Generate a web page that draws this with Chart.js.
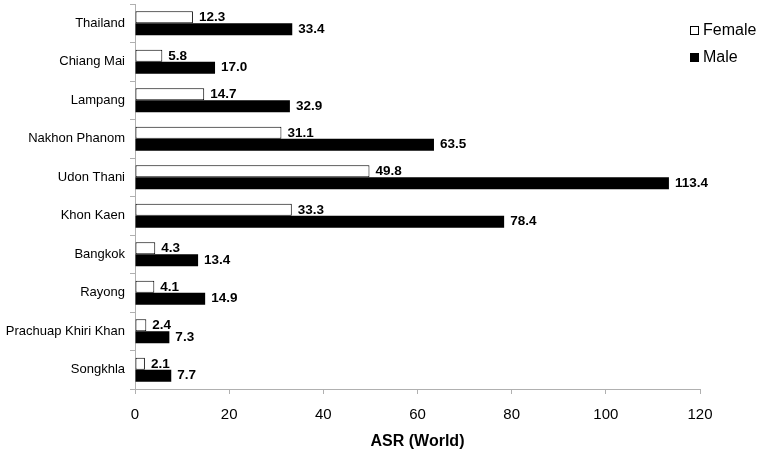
<!DOCTYPE html>
<html>
<head>
<meta charset="utf-8">
<script src="https://cdn.jsdelivr.net/npm/chart.js@4"></script>
<style>
  html, body { margin: 0; padding: 0; background: #fff; }
  #wrap { width: 762px; height: 459px; }
</style>
</head>
<body>
<div id="wrap"><canvas id="asrChart" width="762" height="459"></canvas></div>
<script>
// Chart data
const provinces = ['Thailand', 'Chiang Mai', 'Lampang', 'Nakhon Phanom', 'Udon Thani',
  'Khon Kaen', 'Bangkok', 'Rayong', 'Prachuap Khiri Khan', 'Songkhla'];
const femaleASR = [12.3, 5.8, 14.7, 31.1, 49.8, 33.3, 4.3, 4.1, 2.4, 2.1];
const maleASR = [33.4, 17.0, 32.9, 63.5, 113.4, 78.4, 13.4, 14.9, 7.3, 7.7];
const xTicks = [0, 20, 40, 60, 80, 100, 120];

const FONT = 'Liberation Sans, Arial, sans-serif';

// value labels to the right of each bar
const barLabels = {
  id: 'barLabels',
  afterDatasetsDraw(chart) {
    const ctx = chart.ctx;
    ctx.save();
    ctx.font = 'bold 13.5px ' + FONT;
    ctx.fillStyle = '#000';
    ctx.textAlign = 'left';
    ctx.textBaseline = 'middle';
    chart.data.datasets.forEach((ds, di) => {
      chart.getDatasetMeta(di).data.forEach((bar, i) => {
        ctx.fillText(ds.data[i].toFixed(1), bar.x + 6, bar.y);
      });
    });
    ctx.restore();
  }
};

// legend in the top right corner
const cornerLegend = {
  id: 'cornerLegend',
  afterDraw(chart) {
    const ctx = chart.ctx;
    ctx.save();
    ctx.font = '16px ' + FONT;
    ctx.textBaseline = 'middle';
    chart.data.datasets.forEach((ds, i) => {
      const y = 31 + i * 27;
      ctx.fillStyle = ds.backgroundColor;
      ctx.fillRect(690, y - 5, 9, 9);
      ctx.strokeStyle = '#000';
      ctx.lineWidth = 1;
      ctx.strokeRect(690.5, y - 4.5, 8, 8);
      ctx.fillStyle = '#000';
      ctx.fillText(ds.label, 703, y);
    });
    ctx.restore();
  }
};

new Chart(document.getElementById('asrChart'), {
  type: 'bar',
  data: {
    labels: provinces,
    datasets: [{
      label: 'Female',
      data: femaleASR,
      backgroundColor: '#ffffff',
      borderColor: '#000000',
      borderWidth: 1,
      borderSkipped: false,
      categoryPercentage: 0.62,
      barPercentage: 1.0
    }, {
      label: 'Male',
      data: maleASR,
      backgroundColor: '#000000',
      borderColor: '#000000',
      borderWidth: 0,
      categoryPercentage: 0.62,
      barPercentage: 1.0
    }]
  },
  options: {
    indexAxis: 'y',
    responsive: false,
    animation: false,
    layout: { padding: { top: 4, right: 62, left: 0, bottom: 0 } },
    plugins: {
      legend: { display: false },
      tooltip: { enabled: false }
    },
    scales: {
      x: {
        min: 0,
        max: 120,
        afterBuildTicks: (scale) => { scale.ticks = xTicks.map(v => ({ value: v })); },
        afterFit: (scale) => { scale.height = 70; },
        border: { color: '#b0b0b0', width: 1 },
        grid: { drawOnChartArea: false, tickLength: 5, color: '#b0b0b0' },
        ticks: { color: '#000', padding: 12, font: { family: FONT, size: 15 } },
        title: {
          display: true,
          text: 'ASR (World)',
          color: '#000',
          padding: { top: 6, bottom: 8 },
          font: { family: FONT, size: 16, weight: 'bold' }
        }
      },
      y: {
        afterFit: (scale) => {
          scale.width = 135;
          scale.paddingTop = 0;
          scale.paddingBottom = 0;
        },
        border: { color: '#b0b0b0', width: 1 },
        grid: { drawOnChartArea: false, tickLength: 5, color: '#b0b0b0', offset: true },
        ticks: { color: '#000', padding: 5, font: { family: FONT, size: 13 } }
      }
    }
  },
  plugins: [barLabels, cornerLegend]
});
</script>
</body>
</html>
